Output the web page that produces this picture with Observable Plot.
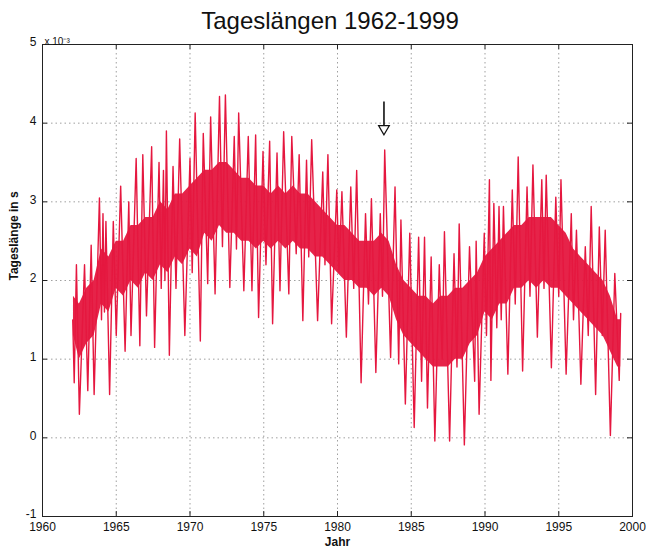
<!DOCTYPE html>
<html><head><meta charset="utf-8">
<script src="https://cdn.jsdelivr.net/npm/d3@7"></script>
<script src="https://cdn.jsdelivr.net/npm/@observablehq/plot@0.6"></script>
<style>
body{margin:0;background:#fff;font-family:"Liberation Sans",Arial,sans-serif;}
#title{height:26px;line-height:26px;font-size:24px;text-align:center;padding-left:14px;position:relative;top:8px;z-index:1;color:#111}
</style></head><body>
<div id="title">Tageslängen 1962-1999</div>
<div id="chart"></div>
<script>
// Spike extremes: [year, value (x 10^-3 s)]
const spikes = [
[1962.05,1.5],[1962.15,0.7],[1962.3,2.2],[1962.5,0.3],[1962.85,2.2],[1963.07,0.6],[1963.3,2.45],[1963.5,0.55],
[1963.86,3.05],[1964.0,1.5],[1964.1,2.85],[1964.2,1.6],[1964.3,2.75],[1964.55,0.55],[1964.8,2.75],[1965.0,1.3],
[1965.3,3.2],[1965.6,1.1],[1965.85,3.0],[1966.0,1.3],[1966.35,3.55],[1966.6,1.17],[1966.8,3.6],[1967.05,1.55],
[1967.4,3.7],[1967.6,1.15],[1967.9,3.5],[1968.05,1.9],[1968.2,3.4],[1968.3,2.0],[1968.4,3.9],[1968.6,1.05],
[1968.85,3.45],[1969.05,1.9],[1969.3,3.8],[1969.65,1.3],[1970.0,3.55],[1970.15,2.1],[1970.35,4.13],[1970.7,1.23],
[1970.9,3.87],[1971.2,1.96],[1971.4,4.08],[1971.7,1.83],[1972.0,4.34],[1972.2,2.43],[1972.4,4.36],[1972.7,1.91],
[1973.0,3.83],[1973.15,2.4],[1973.3,4.13],[1973.65,1.87],[1973.95,3.83],[1974.2,1.87],[1974.45,3.85],[1974.65,1.53],
[1974.95,3.64],[1975.15,2.2],[1975.4,3.77],[1975.6,1.45],[1975.9,3.62],[1976.1,1.87],[1976.35,3.89],[1976.7,1.83],
[1976.9,3.83],[1977.2,2.34],[1977.4,3.6],[1977.65,1.49],[1977.9,3.53],[1978.05,2.3],[1978.25,3.79],[1978.65,1.49],
[1979.0,3.38],[1979.15,2.2],[1979.35,3.6],[1979.6,1.45],[1979.95,3.15],[1980.1,2.1],[1980.3,3.13],[1980.6,1.28],
[1980.9,3.19],[1981.1,1.9],[1981.3,3.4],[1981.6,0.7],[1981.9,2.85],[1982.1,1.7],[1982.3,3.04],[1982.6,0.83],
[1982.9,2.85],[1983.05,1.8],[1983.2,3.66],[1983.6,1.02],[1983.9,3.19],[1984.15,0.94],[1984.3,2.77],[1984.6,0.43],
[1984.9,2.6],[1985.2,0.13],[1985.5,2.55],[1985.7,0.72],[1985.9,2.55],[1986.1,0.38],[1986.35,2.3],[1986.6,-0.04],
[1986.9,2.2],[1987.1,1.0],[1987.25,2.62],[1987.6,-0.04],[1987.9,2.34],[1988.1,0.9],[1988.25,2.72],[1988.6,-0.09],
[1988.95,2.43],[1989.3,0.72],[1989.4,2.5],[1989.6,0.3],[1989.95,2.6],[1990.1,1.3],[1990.3,3.28],[1990.4,0.73],
[1990.6,2.98],[1990.8,1.4],[1990.95,2.94],[1991.1,1.5],[1991.25,2.94],[1991.55,0.81],[1991.85,3.15],[1992.05,1.7],
[1992.25,3.57],[1992.55,0.85],[1992.85,3.19],[1993.05,1.8],[1993.25,3.47],[1993.55,1.28],[1993.85,3.28],[1994.0,1.9],
[1994.15,3.34],[1994.5,0.89],[1994.8,3.06],[1995.0,1.8],[1995.15,3.28],[1995.5,0.81],[1995.85,2.85],[1996.0,1.5],
[1996.2,2.64],[1996.5,0.68],[1996.8,2.43],[1997.0,1.3],[1997.2,2.94],[1997.5,0.55],[1997.75,2.68],[1997.95,1.3],
[1998.15,2.64],[1998.5,0.03],[1998.8,2.09],[1999.1,0.73],[1999.2,1.58]
];
// Dense central band (half-yearly)
const coreYears = [1962.1,1962.5,1963,1963.5,1964,1964.5,1965,1965.5,1966,1966.5,1967,1967.5,1968,1968.5,1969,1969.5,1970,1970.5,1971,1971.5,1972,1972.5,1973,1973.5,1974,1974.5,1975,1975.5,1976,1976.5,1977,1977.5,1978,1978.5,1979,1979.5,1980,1980.5,1981,1981.5,1982,1982.5,1983,1983.5,1984,1984.5,1985,1985.5,1986,1986.5,1987,1987.5,1988,1988.5,1989,1989.5,1990,1990.5,1991,1991.5,1992,1992.5,1993,1993.5,1994,1994.5,1995,1995.5,1996,1996.5,1997,1997.5,1998,1998.5,1999,1999.2];
const coreLow  = [1.3,1.0,1.2,1.3,1.7,1.6,1.9,1.8,2.0,1.9,2.1,2.0,2.2,2.1,2.3,2.2,2.4,2.3,2.6,2.5,2.7,2.6,2.6,2.5,2.5,2.4,2.5,2.4,2.5,2.4,2.5,2.4,2.4,2.3,2.3,2.2,2.1,2.0,2.0,1.9,1.9,1.8,1.9,1.8,1.5,1.3,1.2,1.1,1.0,0.9,0.9,0.9,1.0,1.0,1.2,1.3,1.6,1.5,1.7,1.7,1.9,1.9,2.0,1.9,2.0,1.9,1.9,1.8,1.7,1.6,1.5,1.4,1.3,1.1,0.9,0.9];
const coreHigh = [1.8,1.7,1.9,2.0,2.4,2.3,2.5,2.5,2.7,2.7,2.8,2.8,3.0,2.9,3.1,3.1,3.2,3.3,3.4,3.4,3.5,3.5,3.4,3.3,3.3,3.2,3.2,3.1,3.2,3.1,3.2,3.1,3.1,3.0,2.9,2.8,2.7,2.7,2.6,2.5,2.5,2.5,2.6,2.5,2.2,2.0,1.9,1.8,1.8,1.7,1.8,1.8,1.9,1.9,2.0,2.1,2.3,2.4,2.5,2.6,2.7,2.7,2.8,2.8,2.8,2.8,2.7,2.6,2.4,2.3,2.2,2.1,2.0,1.8,1.5,1.5];
const xTicks = [1960,1965,1970,1975,1980,1985,1990,1995,2000];
const yTicks = [-1,0,1,2,3,4,5];
// Annotation arrow (year, shaft top, triangle centre)
const markYear = [1983.15];
const markTop = [4.27];
const markHead = [3.93];

const red = "#e5173f";
const W = 646, H = 526, mT = 18, mB = 36, mL = 42, mR = 14;
const innerH = H - mT - mB, innerW = W - mL - mR;
const core = coreYears.map((y, i) => ({year: y, lo: coreLow[i], hi: coreHigh[i]}));
const series = spikes.map(([year, value]) => ({year, value}));

const chart = Plot.plot({
  width: W, height: H,
  marginTop: mT, marginBottom: mB, marginLeft: mL, marginRight: mR,
  style: {background: "transparent", fontFamily: "'Liberation Sans', Arial, sans-serif", fontSize: "12px", color: "#111"},
  x: {domain: [1960, 2000], ticks: xTicks},
  y: {domain: [-1, 5], ticks: yTicks},
  marks: [
    Plot.gridX(xTicks, {stroke: "#888", strokeOpacity: 0.8, strokeDasharray: "1.5,3"}),
    Plot.gridY(yTicks, {stroke: "#888", strokeOpacity: 0.8, strokeDasharray: "1.5,3"}),
    Plot.areaY(core, {x: "year", y1: "lo", y2: "hi", fill: red, fillOpacity: 0.95}),
    Plot.line(series, {x: "year", y: "value", stroke: red, strokeWidth: 1.4}),
    Plot.ruleX(markYear, {x: d => d, y1: (d, i) => markTop[i], y2: (d, i) => markHead[i], stroke: "#111", strokeWidth: 1.6}),
    Plot.dot(markYear, {x: d => d, y: (d, i) => markHead[i], symbol: "triangle", rotate: 180, r: 4, fill: "white", stroke: "#111", strokeWidth: 1.2}),
    Plot.frame({stroke: "#222", strokeWidth: 1}),
    Plot.tickX(xTicks, {x: d => d, insetTop: innerH - 5, stroke: "#222"}),
    Plot.tickX(xTicks, {x: d => d, insetBottom: innerH - 5, stroke: "#222"}),
    Plot.tickY(yTicks, {y: d => d, insetRight: innerW - 5, stroke: "#222"}),
    Plot.tickY(yTicks, {y: d => d, insetLeft: innerW - 5, stroke: "#222"}),
    Plot.axisX(xTicks, {tickSize: 0, tickPadding: 6, label: null, fontSize: 12, tickFormat: d => String(d)}),
    Plot.axisY(yTicks, {tickSize: 0, tickPadding: 6, dy: -2, label: null, fontSize: 12, tickFormat: d => String(d)}),
    Plot.text(["Jahr"], {frameAnchor: "bottom", dy: 29, fontWeight: "bold", fontSize: 12}),
    Plot.text(["Tageslänge in s"], {frameAnchor: "left", rotate: -90, dx: -28, fontWeight: "bold", fontSize: 12}),
    Plot.text(["x 10⁻³"], {frameAnchor: "top-left", dx: 2, dy: -7, textAnchor: "start", fontSize: 10})
  ]
});
document.getElementById("chart").appendChild(chart);
</script>
</body></html>
